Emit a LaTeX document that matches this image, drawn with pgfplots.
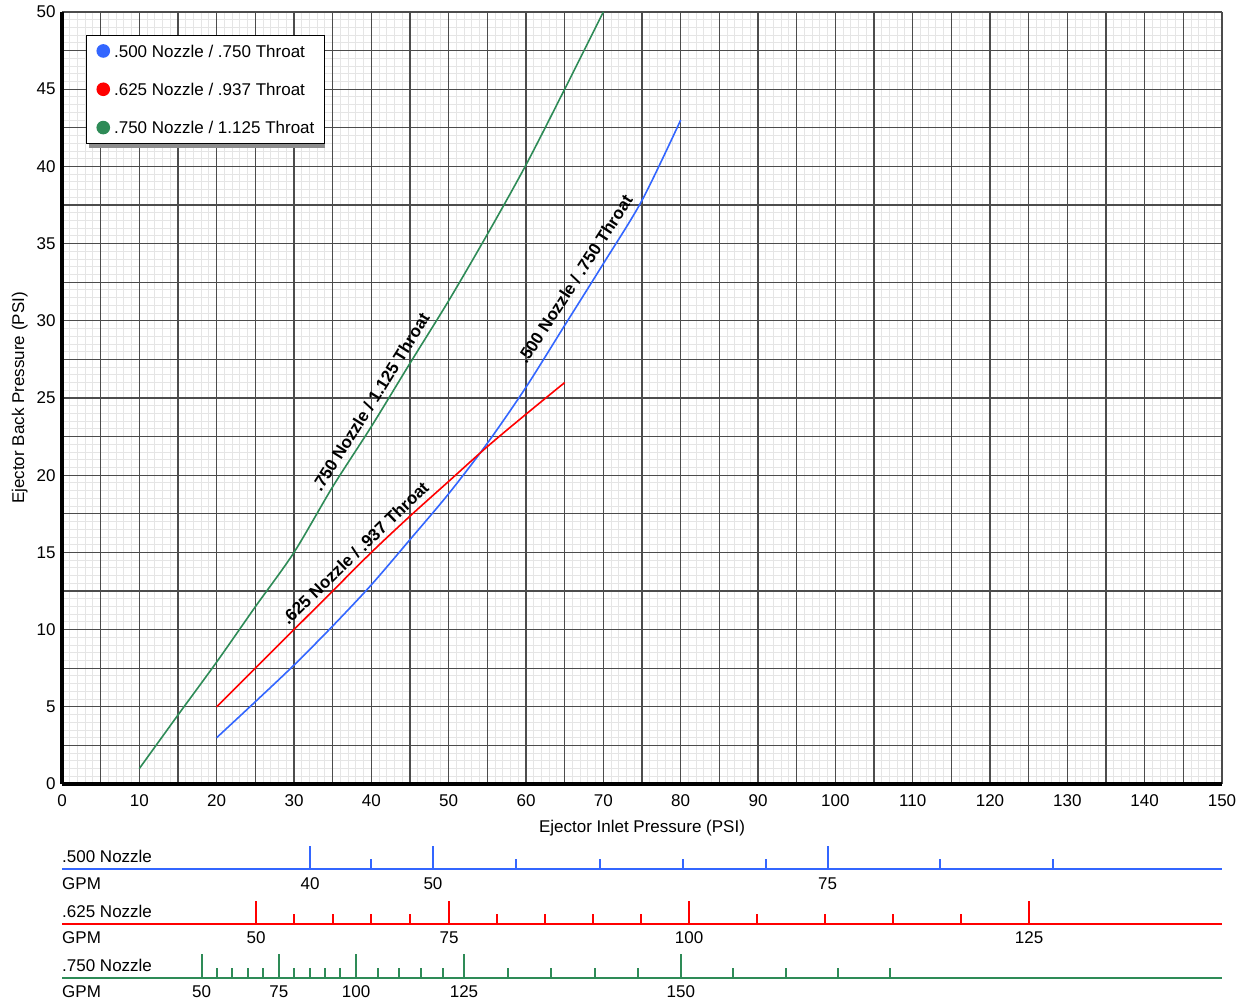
\documentclass[border=0pt]{standalone}
\usepackage{fontspec}
\setmainfont{Liberation Sans}
\usepackage{pgfplots}
\pgfplotsset{compat=1.18}
\definecolor{cblue}{RGB}{51,102,255}
\definecolor{cred}{RGB}{255,0,0}
\definecolor{cgreen}{RGB}{46,139,87}
\newcommand{\fs}{\fontsize{17}{20}\selectfont}
\pgfplotsset{mainaxis/.style={at={(62pt,218pt)}, anchor=south west,
  scale only axis, width=1160pt, height=772pt,
  xmin=0, xmax=150, ymin=0, ymax=50,
  xtick={0,5,...,150}, ytick={0,2.5,...,50},
  major tick length=0pt, minor tick length=0pt}}
\begin{document}
\begin{tikzpicture}[font=\fs]
\useasboundingbox (0,0) rectangle (1244pt,1002pt);
% minor grid layer
\begin{axis}[mainaxis,
  minor x tick num=4, minor y tick num=4,
  xticklabels={}, yticklabels={},
  grid=minor, minor grid style={line width=0.9pt, draw=black!10},
  axis line style={draw=none}]
\end{axis}
% main layer
\begin{axis}[mainaxis,
  axis x line*=bottom, axis y line*=left,
  axis line style={line width=4pt, black},
  xticklabels={0,,10,,20,,30,,40,,50,,60,,70,,80,,90,,100,,110,,120,,130,,140,,150},
  yticklabels={0,,5,,10,,15,,20,,25,,30,,35,,40,,45,,50},
  grid=major,
  major grid style={line width=1.15pt, draw=black!70},
  xticklabel style={anchor=base, yshift=-22pt, font=\fs},
  yticklabel style={anchor=east, xshift=-3pt, font=\fs},
  legend style={at={(axis cs:3.1,48.5)}, anchor=north west,
    draw=black, line width=1pt, fill=white,
    inner xsep=10pt, inner ysep=8.5pt, row sep=23.6pt,
    nodes={inner sep=0pt, font=\fs},
    /tikz/every odd column/.append style={column sep=4pt}},
  legend cell align=left,
  legend image code/.code={\fill[#1] (0pt,1pt) circle (6pt);},
]
\fill[black!45] (axis cs:3.49,48.32) rectangle (axis cs:33.95,41.19);
\addplot[cblue, line width=1.6pt, smooth] coordinates {(20,3)(25,5.33)(30,7.7)(35,10.23)(40,12.9)(45,15.83)(50,18.8)(55,22.07)(60,25.7)(65,29.7)(70,33.7)(75,37.8)(80,43)};
\addplot[cred, line width=1.6pt, smooth] coordinates {(20,5)(25,7.5)(30,10)(35,12.5)(40,15)(45,17.35)(50,19.6)(55,21.85)(60,23.95)(65,26)};
\addplot[cgreen, line width=1.6pt, smooth] coordinates {(10,1)(15,4.47)(20,7.9)(25,11.48)(30,15)(35,19.25)(40,23.15)(45,27.25)(50,31.3)(55,35.6)(60,40.1)(65,45)(70,50)};
\legend{.500 Nozzle / .750 Throat, .625 Nozzle / .937 Throat, .750 Nozzle / 1.125 Throat}
\node[rotate=58, font=\fs\bfseries] at (axis cs:39.92,24.72) {.750 Nozzle / 1.125 Throat};
\node[rotate=44, font=\fs\bfseries] at (axis cs:37.9,14.95) {.625 Nozzle / .937 Throat};
\node[rotate=57, font=\fs\bfseries] at (axis cs:66.34,32.69) {.500 Nozzle / .750 Throat};
\end{axis}
\node[anchor=base] at (642pt,170pt) {Ejector Inlet Pressure (PSI)};
\node[anchor=base, rotate=90] at (24pt,604pt) {Ejector Back Pressure (PSI)};
% .500 scale
\begin{axis}[at={(62pt,132.7pt)}, anchor=south west, scale only axis, width=1160pt, height=30pt,
  xmin=0,xmax=150,ymin=0,ymax=30, hide axis, clip=false]
\addplot[cblue, line width=2pt] coordinates {(0,0)(150,0)};
\addplot[cblue, line width=2pt, ycomb] coordinates {(32.07,23)(47.97,23)(99.01,23)(40.01,10)(58.77,10)(69.56,10)(80.29,10)(91.03,10)(113.57,10)(128.09,10)};
\node[anchor=base west, inner sep=0pt] at (axis cs:0,6.5) {.500 Nozzle};
\node[anchor=base west, inner sep=0pt] at (axis cs:0,-20) {GPM};
\node[anchor=base, inner sep=0pt] at (axis cs:32.07,-20) {40};
\node[anchor=base, inner sep=0pt] at (axis cs:47.97,-20) {50};
\node[anchor=base, inner sep=0pt] at (axis cs:99.01,-20) {75};
\end{axis}
% .625 scale
\begin{axis}[at={(62pt,78.3pt)}, anchor=south west, scale only axis, width=1160pt, height=30pt,
  xmin=0,xmax=150,ymin=0,ymax=30, hide axis, clip=false]
\addplot[cred, line width=2pt] coordinates {(0,0)(150,0)};
\addplot[cred, line width=2pt, ycomb] coordinates {(25.11,23)(50.06,23)(81.10,23)(125.06,23)(30.06,10)(35.02,10)(40.01,10)(45.01,10)(56.29,10)(62.48,10)(68.72,10)(74.83,10)(89.86,10)(98.65,10)(107.4,10)(116.2,10)};
\node[anchor=base west, inner sep=0pt] at (axis cs:0,6.5) {.625 Nozzle};
\node[anchor=base west, inner sep=0pt] at (axis cs:0,-20) {GPM};
\node[anchor=base, inner sep=0pt] at (axis cs:25.11,-20) {50};
\node[anchor=base, inner sep=0pt] at (axis cs:50.06,-20) {75};
\node[anchor=base, inner sep=0pt] at (axis cs:81.10,-20) {100};
\node[anchor=base, inner sep=0pt] at (axis cs:125.06,-20) {125};
\end{axis}
% .750 scale
\begin{axis}[at={(62pt,24pt)}, anchor=south west, scale only axis, width=1160pt, height=30pt,
  xmin=0,xmax=150,ymin=0,ymax=30, hide axis, clip=false]
\addplot[cgreen, line width=2pt] coordinates {(0,0)(150,0)};
\addplot[cgreen, line width=2pt, ycomb] coordinates {(18.04,24)(28.03,24)(38.03,24)(51.98,24)(80.03,24)(20.02,10)(22.0,10)(24.03,10)(26.0,10)(30.01,10)(32.04,10)(34.02,10)(36.0,10)(40.8,10)(43.58,10)(46.4,10)(49.22,10)(57.63,10)(63.27,10)(68.86,10)(74.43,10)(86.82,10)(93.56,10)(100.3,10)(107.04,10)};
\node[anchor=base west, inner sep=0pt] at (axis cs:0,6.5) {.750 Nozzle};
\node[anchor=base west, inner sep=0pt] at (axis cs:0,-19.5) {GPM};
\node[anchor=base, inner sep=0pt] at (axis cs:18.04,-19.5) {50};
\node[anchor=base, inner sep=0pt] at (axis cs:28.03,-19.5) {75};
\node[anchor=base, inner sep=0pt] at (axis cs:38.03,-19.5) {100};
\node[anchor=base, inner sep=0pt] at (axis cs:51.98,-19.5) {125};
\node[anchor=base, inner sep=0pt] at (axis cs:80.03,-19.5) {150};
\end{axis}
\end{tikzpicture}
\end{document}
